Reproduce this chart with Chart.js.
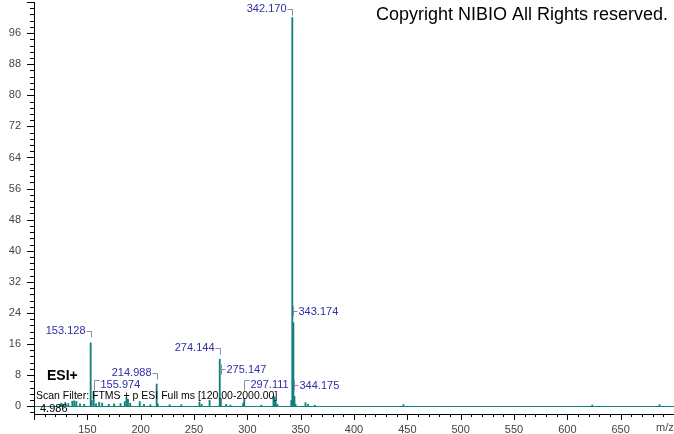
<!DOCTYPE html>
<html>
<head>
<meta charset="utf-8">
<script src="https://cdn.jsdelivr.net/npm/chart.js@4/dist/chart.umd.min.js"></script>
<style>
  body { margin: 0; background: #fff; }
  canvas { display: block; }
</style>
</head>
<body>
<canvas id="msChart" width="674" height="434"></canvas>
<script>
// spectrum data (m/z vs relative abundance)
const mz = [124.1, 125.6, 127.1, 129.4, 132.2, 135.9, 137.8, 139.7, 143.1, 147.0,
  153.128, 154.13, 155.974, 158.1, 161.1, 163.9, 170.1, 175.1, 181.1, 185.1,
  186.7, 188.1, 190.2, 199.1, 203.1, 209.1, 214.988, 216.0, 227.1, 238.1,
  255.1, 257.1, 264.6, 274.144, 275.147, 280.1, 284.1, 296.1, 297.111, 313.1,
  324.5, 325.6, 326.6, 328.1, 341.2, 342.170, 343.174, 344.175, 345.2, 354.5,
  357.0, 363.2, 446.3, 623.3, 686.4];
const abundance = [0.4, 0.8, 0.5, 1.0, 0.7, 1.3, 1.4, 1.2, 0.6, 0.5,
  16.3, 1.5, 3.5, 0.6, 1.0, 0.8, 0.5, 0.6, 0.7, 1.2,
  2.2, 1.8, 0.8, 1.2, 0.5, 0.4, 5.7, 0.6, 0.4, 0.4,
  1.1, 0.5, 1.5, 12.1, 2.0, 0.5, 0.3, 0.8, 2.0, 0.3,
  2.6, 2.4, 1.2, 0.5, 1.5, 100, 21.5, 2.5, 0.5, 0.9,
  0.5, 0.3, 0.4, 0.3, 0.4];
const labelledPeaks = [153.128, 155.974, 214.988, 274.144, 275.147, 297.111, 342.170, 343.174, 344.175];
const xTicks = [150, 200, 250, 300, 350, 400, 450, 500, 550, 600, 650];
const yTicks = [0, 8, 16, 24, 32, 40, 48, 56, 64, 72, 80, 88, 96];

const teal = '#12807c';
const labelBlue = '#2e2ea8';
const bracketGrey = '#8a8aae';

// where each peak label sits: side of the peak, and text centre offset (px) above peak top
const labelLayout = {
  '153.128': ['left', -13],
  '155.974': ['corner', -9],
  '214.988': ['left', -12],
  '274.144': ['left', -12],
  '275.147': ['right', -29],
  '297.111': ['corner', -14],
  '342.170': ['left', -10],
  '343.174': ['right', -12],
  '344.175': ['right', -12]
};

const points = mz.map((m, i) => ({ x: m, y: abundance[i] }));

const extras = {
  id: 'extras',
  afterDraw(chart) {
    const { ctx, chartArea: a, scales: { x, y } } = chart;
    ctx.save();

    // baseline
    const y0 = Math.round(y.getPixelForValue(0)) + 0.5;
    ctx.strokeStyle = teal;
    ctx.lineWidth = 1;
    ctx.beginPath();
    ctx.moveTo(a.left + 1, y0);
    ctx.lineTo(a.right, y0);
    ctx.stroke();

    // axis tick marks
    ctx.strokeStyle = '#000';
    ctx.beginPath();
    for (let i = -1; i <= 65; i++) {
      const py = Math.round(y.getPixelForValue(i * 1.6)) + 0.5;
      if (py < a.top) continue;
      const len = i % 5 === 0 ? 7 : 4;
      ctx.moveTo(a.left - len, py);
      ctx.lineTo(a.left, py);
    }
    for (let v = 100; v <= 700; v += 10) {
      const px = Math.round(x.getPixelForValue(v)) + 0.5;
      const len = v % 50 === 0 ? 6 : 3;
      ctx.moveTo(px, a.bottom);
      ctx.lineTo(px, a.bottom + len);
    }
    ctx.stroke();

    // peak labels
    ctx.font = '11px "Liberation Sans", Arial, sans-serif';
    ctx.textBaseline = 'middle';
    labelledPeaks.forEach(m => {
      const txt = m.toFixed(3);
      const [side, off] = labelLayout[txt];
      const val = abundance[mz.indexOf(m)];
      const px = Math.round(x.getPixelForValue(m)) + 0.5;
      const top = y.getPixelForValue(val);
      const cy = Math.round(top + off) + 0.5;
      ctx.strokeStyle = bracketGrey;
      ctx.beginPath();
      ctx.fillStyle = labelBlue;
      if (side === 'left') {
        ctx.textAlign = 'right';
        ctx.fillText(txt, px - 6, cy);
        ctx.moveTo(px - 5, cy + 1);
        ctx.lineTo(px, cy + 1);
        ctx.lineTo(px, cy + 7);
      } else if (side === 'right') {
        ctx.textAlign = 'left';
        ctx.fillText(txt, px + 5, cy);
        ctx.moveTo(px, cy - 5);
        ctx.lineTo(px, cy + 5);
        ctx.moveTo(px, cy);
        ctx.lineTo(px + 4, cy);
      } else {
        ctx.textAlign = 'left';
        ctx.fillText(txt, px + 6, cy);
        ctx.moveTo(px + 5, cy - 4);
        ctx.lineTo(px, cy - 4);
        ctx.lineTo(px, cy + 6);
      }
      ctx.stroke();
    });

    // header / annotation text
    ctx.fillStyle = '#000';
    ctx.textAlign = 'right';
    ctx.font = '18px "Liberation Sans", Arial, sans-serif';
    ctx.fillText('Copyright NIBIO All Rights reserved.', 668, 15);
    ctx.textAlign = 'left';
    ctx.font = 'bold 14px "Liberation Sans", Arial, sans-serif';
    ctx.fillText('ESI+', 47, 376);
    ctx.font = '10.5px "Liberation Sans", Arial, sans-serif';
    ctx.fillText('Scan Filter: FTMS + p ESI Full ms [120.00-2000.00]', 36, 396);
    ctx.font = '11px "Liberation Sans", Arial, sans-serif';
    ctx.fillText('4.986', 40, 409);
    ctx.fillStyle = '#444';
    ctx.fillText('m/z', 656, 428);
    ctx.restore();
  }
};

const config = {
  type: 'bar',
  data: {
    datasets: [{
      data: points,
      backgroundColor: teal,
      borderWidth: 0,
      barThickness: 1.2
    }]
  },
  options: {
    responsive: false,
    animation: false,
    devicePixelRatio: 1,
    layout: { padding: { top: 2, right: 0, left: 0, bottom: 0 } },
    plugins: { legend: { display: false }, tooltip: { enabled: false } },
    scales: {
      x: {
        type: 'linear',
        min: 100,
        max: 700,
        offset: false,
        grid: { display: false, drawTicks: false },
        border: { display: true, color: '#000', width: 1 },
        afterBuildTicks: s => { s.ticks = xTicks.map(v => ({ value: v })); },
        afterFit: s => { s.height = 20; s.paddingLeft = 0; s.paddingRight = 0; },
        ticks: {
          padding: 9,
          maxRotation: 0,
          color: '#444',
          font: { family: '"Liberation Sans", Arial, sans-serif', size: 11 }
        }
      },
      y: {
        min: -2,
        max: 104,
        grid: { display: false, drawTicks: false },
        border: { display: true, color: '#000', width: 1 },
        afterBuildTicks: s => { s.ticks = yTicks.map(v => ({ value: v })); },
        afterFit: s => { s.width = 34; s.paddingTop = 0; s.paddingBottom = 0; },
        ticks: {
          padding: 13,
          color: '#444',
          font: { family: '"Liberation Sans", Arial, sans-serif', size: 11 }
        }
      }
    }
  },
  plugins: [extras]
};

const ctx = document.getElementById('msChart').getContext('2d');
const msChart = new Chart(ctx, config);
</script>
</body>
</html>
